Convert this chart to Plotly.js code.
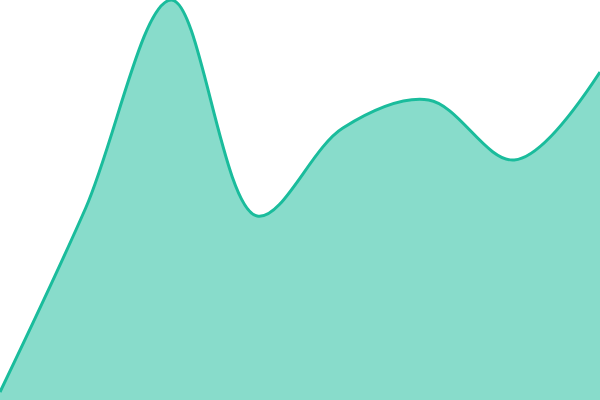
<!DOCTYPE html>
<html>
<head>
<meta charset="utf-8">
<script src="https://cdn.plot.ly/plotly-3.0.1.min.js"></script>
<style>
  html, body { margin: 0; padding: 0; background: #fff; }
  #chart { width: 600px; height: 400px; }
</style>
</head>
<body>
<div id="chart"></div>
<script>
// values, y axis 0..100
var xs = [0, 1, 2, 3, 4, 5, 6, 7];
var values = [2, 48, 100, 46, 68, 75, 60, 82];

var area = {
  x: xs,
  y: values,
  type: 'scatter',
  mode: 'lines',
  fill: 'tozeroy',
  fillcolor: 'rgba(26, 188, 156, 0.52)',
  line: {color: '#1abc9c', width: 3, shape: 'spline', smoothing: 1},
  hoverinfo: 'y'
};

var layout = {
  width: 600,
  height: 400,
  showlegend: false,
  margin: {l: 0, r: 0, t: 0, b: 0},
  xaxis: {visible: false, range: [0, 7], fixedrange: true},
  yaxis: {visible: false, range: [0, 100], fixedrange: true},
  paper_bgcolor: '#fff',
  plot_bgcolor: '#fff'
};

Plotly.newPlot('chart', [area], layout, {displayModeBar: false, staticPlot: true});
</script>
</body>
</html>
